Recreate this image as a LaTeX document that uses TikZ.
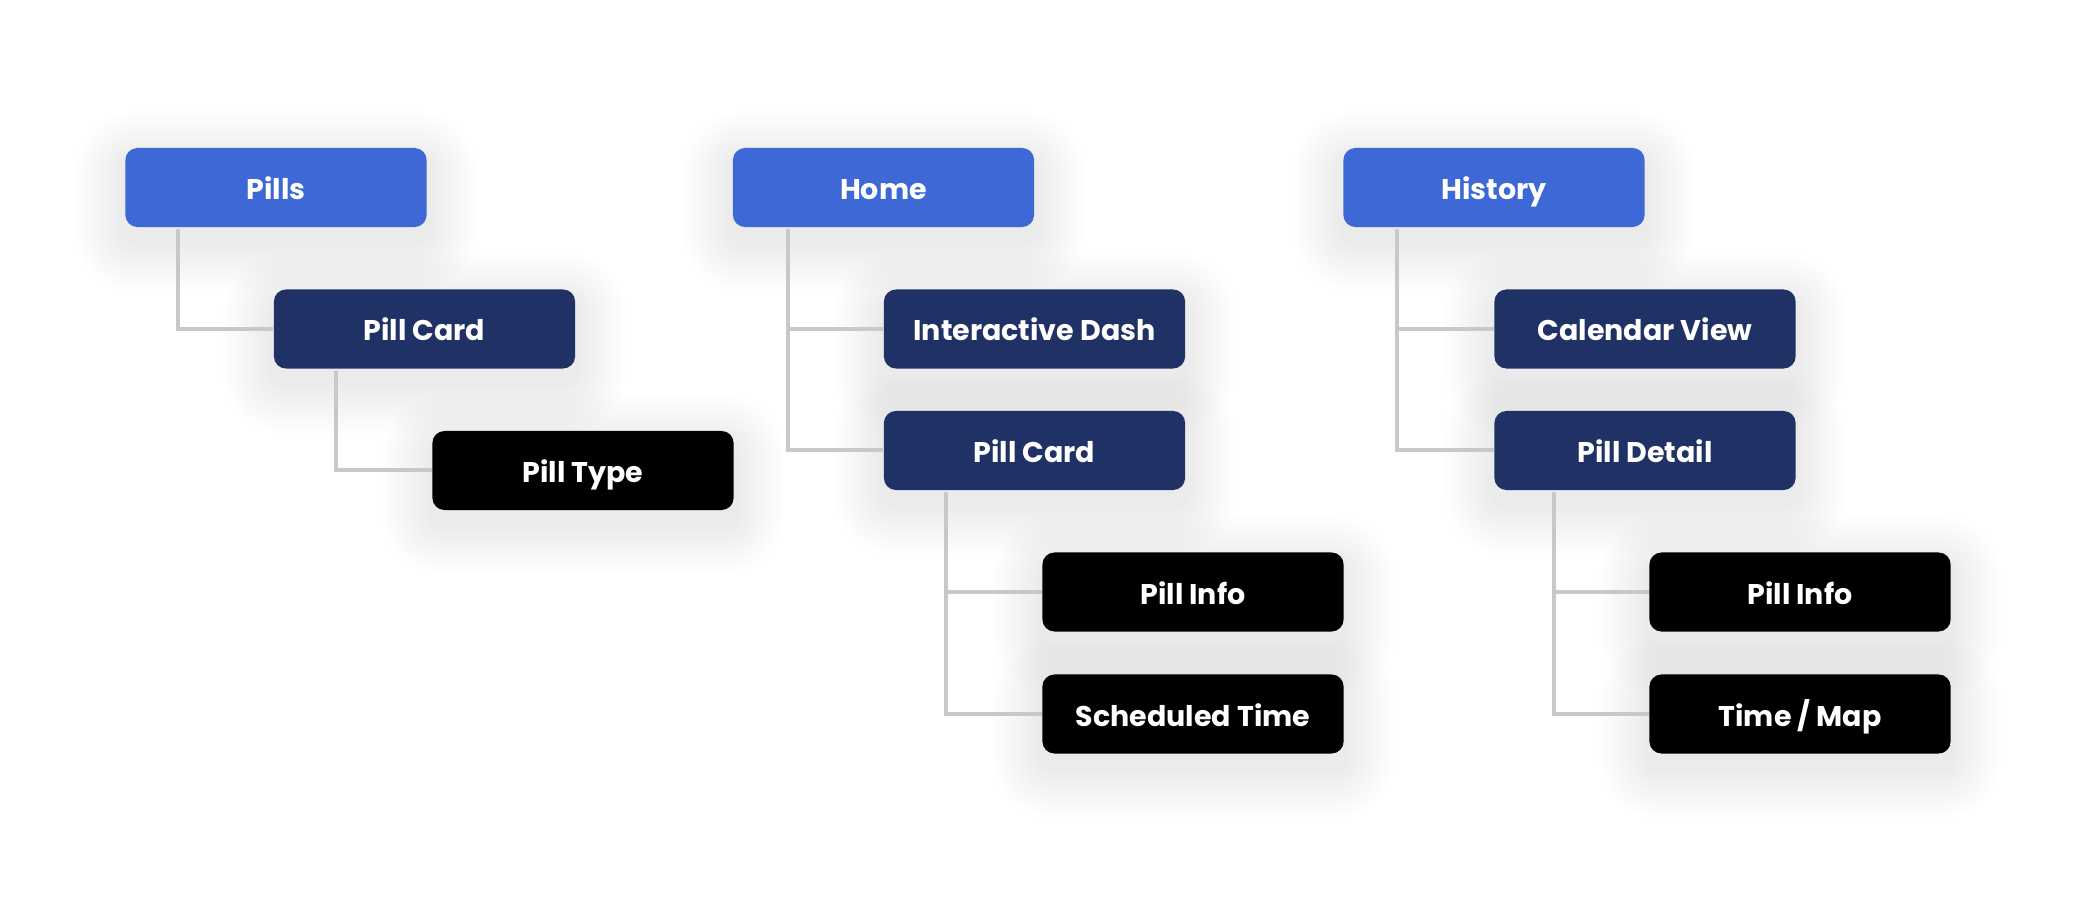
\documentclass[tikz,border=0pt]{standalone}
\usepackage{fontspec}
\setmainfont{Poppins}
\usetikzlibrary{calc, positioning}
\definecolor{ecranbleu}{HTML}{3D68D6}
\definecolor{cartemarine}{HTML}{203166}
\definecolor{detailnoir}{HTML}{000000}
\definecolor{liengris}{HTML}{C8C8C8}
\pgfdeclarelayer{fond}
\pgfsetlayers{fond,main}

% ombre douce sous une boite
\newcommand{\ombre}[1]{%
  \begin{pgfonlayer}{fond}
    \foreach \k in {1,...,20}{
      \pgfmathsetmacro{\rr}{0.12+\k*0.025}
      \fill[black, opacity=0.0035, rounded corners=\rr cm]
        ($(#1.north west)+(-\k*2.5,-\k*2.5+14)$) rectangle ($(#1.south east)+(\k*2.5,\k*2.5+14)$);
    }
  \end{pgfonlayer}}

\tikzset{
  boite/.style={rectangle, rounded corners=0.12cm, minimum width=3.01cm, minimum height=0.79cm,
    inner sep=0pt, text=white, text height=0.24cm, text depth=0cm,
    font=\fontsize{8.1}{10}\selectfont\bfseries},
  ecran/.style={boite, fill=ecranbleu},
  carte/.style={boite, fill=cartemarine},
  detail/.style={boite, fill=detailnoir},
  lien/.style={liengris, line width=0.04cm}
}

\begin{document}
\begin{tikzpicture}[x=0.01cm, y=-0.01cm]

  % Fond
  \begin{pgfonlayer}{fond}
    \fill[white] (0,0) rectangle (2076,904);
  \end{pgfonlayer}
  \useasboundingbox (0,0) rectangle (2076,904);

  % Pills
  \node[ecran] (pills) at (276,187.5) {Pills};
  \node[carte] (carteA) at (424.5,329) {Pill Card};
  \node[detail] (typeA) at (583,470.5) {Pill Type};

  % Home
  \node[ecran] (accueil) at (883.5,187.5) {Home};
  \node[carte] (dash) at (1034.5,329) {Interactive Dash};
  \node[carte] (carteB) at (1034.5,450.5) {Pill Card};
  \node[detail] (infoB) at (1193,592) {Pill Info};
  \node[detail] (heureB) at (1193,714) {Scheduled Time};

  % History
  \node[ecran] (histo) at (1494,187.5) {History};
  \node[carte] (calendrier) at (1645,329) {Calendar View};
  \node[carte] (detailC) at (1645,450.5) {Pill Detail};
  \node[detail] (infoC) at (1800,592) {Pill Info};
  \node[detail] (carteC) at (1800,714) {Time / Map};

  % Ombres
  \foreach \n in {pills,carteA,typeA,accueil,dash,carteB,infoB,heureB,histo,calendrier,detailC,infoC,carteC}
    \ombre{\n};

  % Liens
  \draw[lien] ([xshift=0.53cm, yshift=-0.4pt]pills.south west) |- (carteA.west);
  \draw[lien] ([xshift=0.63cm, yshift=-0.4pt]carteA.south west) |- (typeA.west);
  \draw[lien] ([xshift=0.56cm, yshift=-0.4pt]accueil.south west) |- (dash.west);
  \draw[lien] ([xshift=0.56cm, yshift=-0.4pt]accueil.south west) |- (carteB.west);
  \draw[lien] ([xshift=0.63cm, yshift=-0.4pt]carteB.south west) |- (infoB.west);
  \draw[lien] ([xshift=0.63cm, yshift=-0.4pt]carteB.south west) |- (heureB.west);
  \draw[lien] ([xshift=0.54cm, yshift=-0.4pt]histo.south west) |- (calendrier.west);
  \draw[lien] ([xshift=0.54cm, yshift=-0.4pt]histo.south west) |- (detailC.west);
  \draw[lien] ([xshift=0.60cm, yshift=-0.4pt]detailC.south west) |- (infoC.west);
  \draw[lien] ([xshift=0.60cm, yshift=-0.4pt]detailC.south west) |- (carteC.west);

\end{tikzpicture}
\end{document}
